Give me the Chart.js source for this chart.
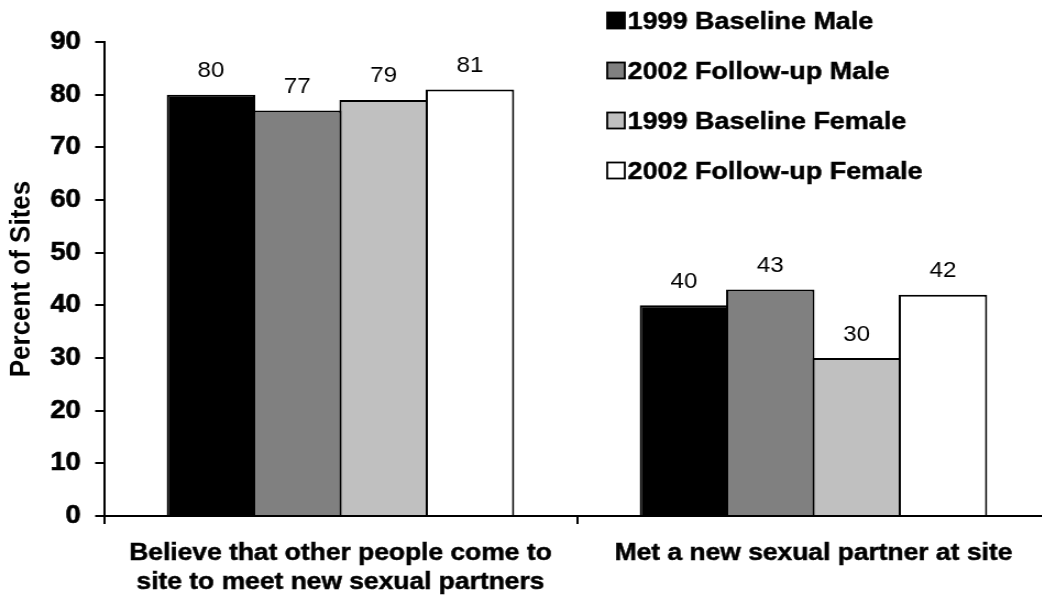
<!DOCTYPE html>
<html>
<head>
<meta charset="utf-8">
<title>Percent of Sites</title>
<script src="https://cdn.jsdelivr.net/npm/chart.js@4.4.1/dist/chart.umd.min.js"></script>
<style>
  html, body { margin: 0; padding: 0; background: #ffffff; width: 1042px; height: 606px; overflow: hidden; }
  #wrap { position: absolute; left: 0; top: 0; width: 960px; height: 606px; transform: scaleX(1.1); transform-origin: 0 0; }
</style>
</head>
<body>
<div id="wrap"><canvas id="chart"></canvas></div>
<script>
// Survey categories (multi-line labels are arrays of lines)
const categories = [
  ["Believe that other people come to", "site to meet new sexual partners"],
  "Met a new sexual partner at site"
];
const seriesNames = ["1999 Baseline Male", "2002 Follow-up Male", "1999 Baseline Female", "2002 Follow-up Female"];
const baselineMale1999 = [80, 40];
const followupMale2002 = [77, 43];
const baselineFemale1999 = [79, 30];
const followupFemale2002 = [81, 42];
const yTickValues = [0, 10, 20, 30, 40, 50, 60, 70, 80, 90];
const axisTitle = "Percent of Sites";

const FONT = '"Liberation Sans", Arial, Helvetica, sans-serif';
const fills = ["#000000", "#808080", "#c0c0c0", "#ffffff"];
const seriesValues = [baselineMale1999, followupMale2002, baselineFemale1999, followupFemale2002];

// Value labels above each bar
const valueLabels = {
  id: "valueLabels",
  afterDatasetsDraw(chart) {
    const ctx = chart.ctx;
    ctx.save();
    ctx.font = "22px " + FONT;
    ctx.fillStyle = "#000";
    ctx.textAlign = "center";
    ctx.textBaseline = "alphabetic";
    chart.data.datasets.forEach((ds, i) => {
      chart.getDatasetMeta(i).data.forEach((bar, j) => {
        ctx.fillText(String(ds.data[j]), bar.x, bar.y - 17.5);
      });
    });
    ctx.restore();
  }
};

// Stacked legend in the upper right
const sideLegend = {
  id: "sideLegend",
  afterDraw(chart) {
    const ctx = chart.ctx;
    ctx.save();
    ctx.font = "bold 24.5px " + FONT;
    ctx.textAlign = "left";
    ctx.textBaseline = "alphabetic";
    chart.data.datasets.forEach((ds, i) => {
      const top = 12.5 + i * 50;
      const x = 552, w = 16, h = 16;
      ctx.fillStyle = ds.backgroundColor;
      ctx.fillRect(x, top, w, h);
      ctx.lineWidth = 1.8;
      ctx.strokeStyle = "#000";
      ctx.strokeRect(x, top, w, h);
      ctx.fillStyle = "#000";
      ctx.lineWidth = 0.5;
      ctx.fillText(ds.label, x + w + 2.5, top + h + 0.8);
      ctx.strokeText(ds.label, x + w + 2.5, top + h + 0.8);
    });
    ctx.restore();
  }
};

new Chart(document.getElementById("chart"), {
  type: "bar",
  data: {
    labels: categories,
    datasets: seriesNames.map((name, i) => ({
      label: name,
      data: seriesValues[i],
      backgroundColor: fills[i],
      borderColor: "#000000",
      borderWidth: 2,
      categoryPercentage: 0.73,
      barPercentage: 1.025
    }))
  },
  options: {
    responsive: true,
    maintainAspectRatio: false,
    animation: false,
    events: [],
    layout: { padding: { top: 42, right: 5.5, left: 0, bottom: 0 } },
    plugins: {
      legend: { display: false },
      tooltip: { enabled: false },
      title: { display: false }
    },
    scales: {
      x: {
        type: "category",
        afterFit(scale) { scale.height = 90; },
        grid: { offset: true, drawOnChartArea: false, drawTicks: true, tickLength: 8, color: "#000", lineWidth: 2 },
        border: { display: true, color: "#000", width: 2 },
        ticks: {
          color: "#000",
          font: { family: FONT, size: 24, weight: "bold", lineHeight: 1.2 },
          textStrokeColor: "#000",
          textStrokeWidth: 0.5,
          padding: 15,
          maxRotation: 0,
          autoSkip: false
        }
      },
      y: {
        min: 0,
        max: 90,
        afterFit(scale) { scale.width = 94.5; },
        afterBuildTicks(scale) { scale.ticks = yTickValues.map(v => ({ value: v })); },
        grid: { drawOnChartArea: false, drawTicks: true, tickLength: 8, color: "#000", lineWidth: 2 },
        border: { display: true, color: "#000", width: 2 },
        ticks: {
          color: "#000",
          font: { family: FONT, size: 25, weight: "bold" },
          textStrokeColor: "#000",
          textStrokeWidth: 0.6,
          padding: 13
        },
        title: {
          display: true,
          text: axisTitle,
          color: "#000",
          font: { family: FONT, size: 26, weight: "bold", lineHeight: 1.2 },
          padding: { top: 4, bottom: 0 }
        }
      }
    }
  },
  plugins: [valueLabels, sideLegend]
});
</script>
</body>
</html>
